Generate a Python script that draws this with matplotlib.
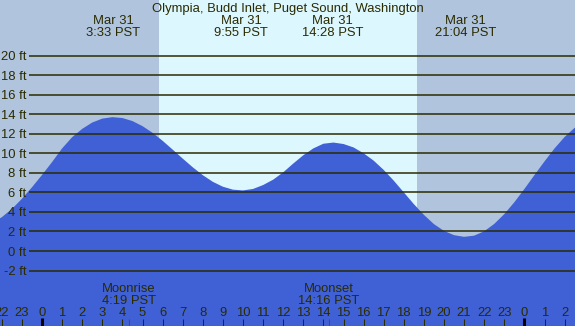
import matplotlib
matplotlib.use('Agg')
import matplotlib.pyplot as plt
import numpy as np
from matplotlib.transforms import blended_transform_factory, ScaledTranslation

# ---------------- data ----------------
title = "Olympia, Budd Inlet, Puget Sound, Washington"
tide_hours = list(np.arange(-2.5, 27.01, 0.5))
tide_heights = [2.88, 3.46, 4.30, 5.34, 6.52, 7.78, 9.10, 10.50, 11.65, 12.50,
                13.15, 13.55, 13.70, 13.61, 13.30, 12.78, 12.10, 11.28, 10.38, 9.46,
                8.57, 7.76, 7.08, 6.58, 6.28, 6.20, 6.35, 6.75, 7.30, 8.05,
                8.95, 9.80, 10.50, 10.98, 11.10, 10.95, 10.60, 10.00, 9.25, 8.30,
                7.20, 6.00, 4.80, 3.70, 2.75, 2.06, 1.62, 1.45, 1.57, 2.02,
                2.77, 3.78, 4.99, 6.35, 7.77, 9.17, 10.50, 11.67, 12.61, 13.27]
extreme_dates = ["Mar 31", "Mar 31", "Mar 31", "Mar 31"]
extreme_times = ["3:33", "9:55", "14:28", "21:04"]
moon_events = ["Moonrise", "Moonset"]
moon_times = ["4:19", "14:16"]
sunrise, sunset = "5:49", "18:39"
ft_levels = list(range(-2, 21, 2))
hour_ticks = list(range(-2, 27))
hour_labels = [str(h % 24) for h in hour_ticks]


def to_h(s):
    a, b = s.split(':')
    return int(a) + int(b) / 60.0


# ---------------- layout ----------------
W, H = 575, 326
DPI = 100
hour_px = 20.1
x0_px = 42.0
zero_py = 251.0
ft_px = 9.77

fig = plt.figure(figsize=(W / DPI, H / DPI), dpi=DPI)
ax = fig.add_axes([0, 0, 1, 1])
ax.set_axis_off()
ax.set_xlim(-x0_px / hour_px, (W - x0_px) / hour_px)
ax.set_ylim(-(H - zero_py) / ft_px, zero_py / ft_px)

night = '#b0c4de'
day = '#ddf7ff'
water = '#4060d6'
ink = '#2b2b00'
font = ['Liberation Sans', 'DejaVu Sans']
fs = 9.4

ax.axvspan(-10, 40, color=night, zorder=0, lw=0)
ax.axvspan(to_h(sunrise), to_h(sunset), color=day, zorder=1, lw=0)
ax.fill_between(tide_hours, tide_heights, -20, color=water, zorder=2, lw=0)

# horizontal lines + labels
bt = blended_transform_factory(ax.transAxes, ax.transData)
ax.hlines(ft_levels, 29 / W, 1.0, transform=bt, colors=ink, lw=1.1, zorder=3)
lab_off = bt + ScaledTranslation(0, -4.5 / DPI, fig.dpi_scale_trans)
for lv in ft_levels:
    ax.text(26.5 / W, lv, f"{lv} ft", transform=lab_off, ha='right', va='baseline',
            fontsize=fs, color=ink, family=font, zorder=4)


def ypx(py):
    return 1 - py / H


tb = blended_transform_factory(ax.transData, ax.transAxes)
fig.text(0.5, ypx(11.7), title, ha='center', va='baseline', fontsize=fs,
         color=ink, family=font)
for d, t in zip(extreme_dates, extreme_times):
    x = to_h(t)
    ax.text(x, ypx(24), d, transform=tb, ha='center', va='baseline', fontsize=fs,
            color=ink, family=font, zorder=5)
    ax.text(x, ypx(36), f"{t} PST", transform=tb, ha='center', va='baseline',
            fontsize=fs, color=ink, family=font, zorder=5)

for ev, t in zip(moon_events, moon_times):
    x = to_h(t)
    ax.text(x, ypx(291.7), ev, transform=tb, ha='center', va='baseline', fontsize=fs,
            color=ink, family=font, zorder=5)
    ax.text(x, ypx(304), f"{t} PST", transform=tb, ha='center', va='baseline',
            fontsize=fs, color=ink, family=font, zorder=5)
    ax.vlines(x, ypx(326), ypx(319), transform=tb, colors='red', lw=0.75, zorder=6)

for h, lab in zip(hour_ticks, hour_labels):
    ax.text(h, ypx(315.7), lab, transform=tb, ha='center', va='baseline', fontsize=fs,
            color=ink, family=font, zorder=5)
    if h % 24 == 0:
        ax.vlines(h, ypx(326), ypx(318), transform=tb, colors='black', lw=2.2, zorder=6)
    else:
        ax.vlines(h, ypx(326), ypx(319), transform=tb, colors=ink, lw=0.75, zorder=6)

fig.savefig('out.png', dpi=DPI)
